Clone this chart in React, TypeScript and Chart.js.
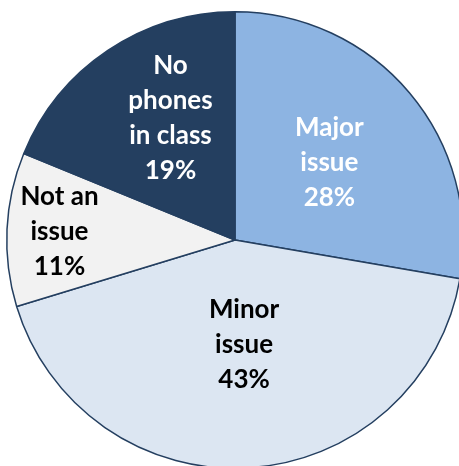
import React, { useEffect, useRef } from "react";
import { Chart, registerables } from "chart.js";

Chart.register(...registerables);

const categories = ["Major issue", "Minor issue", "Not an issue", "No phones in class"];
const values = [28, 43, 11, 19];
const labelLines = [
  ["Major", "issue"],
  ["Minor", "issue"],
  ["Not an", "issue"],
  ["No", "phones", "in class"],
];
const sliceColors = ["#8DB4E2", "#DCE6F2", "#F2F2F2", "#243F60"];
const textColors = ["#FFFFFF", "#000000", "#000000", "#FFFFFF"];
// label placement: fraction of radius, angle offset (deg)
const labelRadius = [0.535, 0.46, 0.77, 0.605];
const labelAngleOffset = [0.7, -1.4, 0.2, 6];

const labelPlugin = {
  id: "sliceLabels",
  afterDatasetsDraw(chart: any) {
    const ctx = chart.ctx;
    const meta = chart.getDatasetMeta(0);
    ctx.save();
    ctx.font = "bold 26px Lato";
    ctx.textAlign = "center";
    ctx.textBaseline = "middle";
    const lh = 35;
    meta.data.forEach((arc: any, i: number) => {
      const p = arc.getProps(["x", "y", "startAngle", "endAngle", "outerRadius"], true);
      const a = (p.startAngle + p.endAngle) / 2 + (labelAngleOffset[i] * Math.PI) / 180;
      const r = p.outerRadius * labelRadius[i];
      const cx = p.x + Math.cos(a) * r;
      const cy = p.y + Math.sin(a) * r;
      const lines = [...labelLines[i], values[i] + "%"];
      const y0 = cy - ((lines.length - 1) * lh) / 2;
      ctx.fillStyle = textColors[i];
      lines.forEach((t, j) => ctx.fillText(t, cx, y0 + j * lh));
    });
    ctx.restore();
  },
};

export default function App() {
  const ref = useRef<HTMLCanvasElement>(null);
  useEffect(() => {
    if (!ref.current) return;
    const chart = new Chart(ref.current, {
      type: "pie",
      data: {
        labels: categories,
        datasets: [
          {
            data: values,
            backgroundColor: sliceColors,
            borderColor: "#243F60",
            borderWidth: 1.5,
          },
        ],
      },
      options: {
        responsive: false,
        animation: false,
        layout: { padding: { left: 6, right: 6, top: 11, bottom: 11 } },
        plugins: { legend: { display: false }, tooltip: { enabled: false } },
      },
      plugins: [labelPlugin],
    });
    return () => chart.destroy();
  }, []);
  return (
    <div style={{ position: "fixed", left: 0, top: 0, width: 459, height: 466, overflow: "hidden", background: "#fff" }}>
      <canvas ref={ref} width={470} height={480} style={{ display: "block" }} />
    </div>
  );
}
